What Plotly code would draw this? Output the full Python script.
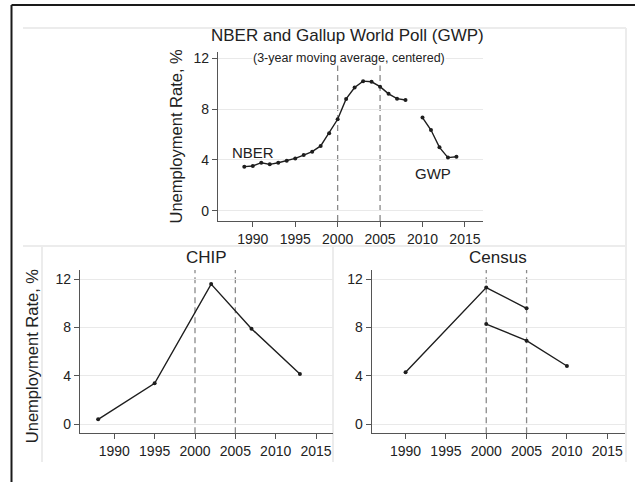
import plotly.graph_objects as go

# ---------------- data ----------------
nber_years = list(range(1989, 2009))
nber_rate = [3.47, 3.52, 3.78, 3.65, 3.78, 3.94, 4.12, 4.38, 4.65, 5.1,
             6.1, 7.2, 8.8, 9.7, 10.2, 10.15, 9.77, 9.2, 8.82, 8.72]
gwp_years = [2010, 2011, 2012, 2013, 2014]
gwp_rate = [7.33, 6.35, 4.99, 4.18, 4.25]

chip_years = [1988, 1995, 2002, 2007, 2013]
chip_rate = [0.39, 3.37, 11.6, 7.9, 4.15]

census1_years = [1990, 2000, 2005]
census1_rate = [4.29, 11.31, 9.59]
census2_years = [2000, 2005, 2010]
census2_rate = [8.29, 6.91, 4.81]

vlines = [2000, 2005]
x_ticks = [1990, 1995, 2000, 2005, 2010, 2015]
y_ticks = [0, 4, 8, 12]

top_title = "NBER and Gallup World Poll (GWP)"
top_subtitle = "(3-year moving average, centered)"
chip_title = "CHIP"
census_title = "Census"
y_title = "Unemployment Rate, %"

# ---------------- layout helpers ----------------
W, H = 635, 482
def px(x):
    return x / W
def py(y):
    return 1 - y / H

FONT = "Liberation Sans, Arial, sans-serif"
TXT = "#222222"
LINE = "#1e1e1e"

fig = go.Figure()

def add_series(xs, ys, xa, ya):
    fig.add_trace(go.Scatter(x=xs, y=ys, mode="lines+markers", xaxis=xa, yaxis=ya,
                             line=dict(color=LINE, width=1.4),
                             marker=dict(color=LINE, size=4),
                             showlegend=False, hoverinfo="x+y"))

add_series(nber_years, nber_rate, "x", "y")
add_series(gwp_years, gwp_rate, "x", "y")
add_series(chip_years, chip_rate, "x2", "y2")
add_series(census1_years, census1_rate, "x3", "y3")
add_series(census2_years, census2_rate, "x3", "y3")

axis_common = dict(showline=True, linecolor="#555555", linewidth=1.3,
                   ticks="outside", ticklen=5, tickcolor="#555555", tickwidth=1.2,
                   tickfont=dict(family=FONT, size=14, color=TXT),
                   zeroline=False, fixedrange=True)

xa = dict(axis_common, tickvals=x_ticks, showgrid=False)
ya = dict(axis_common, tickvals=y_ticks, showgrid=True, gridcolor="#e9e9e9", gridwidth=1)

fig.update_layout(
    width=W, height=H, margin=dict(l=0, r=0, t=0, b=0),
    paper_bgcolor="white", plot_bgcolor="white",
    showlegend=False,
    xaxis=dict(xa, domain=[px(218), px(483)], range=[1985.9, 2017.13], anchor="y"),
    yaxis=dict(ya, domain=[py(221), py(51.7)], range=[-0.81, 12.52], anchor="x"),
    xaxis2=dict(xa, domain=[px(80), px(333)], range=[1985.75, 2017.1], anchor="y2"),
    yaxis2=dict(ya, domain=[py(433.3), py(270)], range=[-0.77, 12.77], anchor="x2"),
    xaxis3=dict(xa, domain=[px(371.7), px(625)], range=[1985.8, 2017.2], anchor="y3"),
    yaxis3=dict(ya, domain=[py(433.3), py(270)], range=[-0.77, 12.77], anchor="x3"),
)

shapes = []
# dashed reference lines
for xr, yr in [("x", "y domain"), ("x2", "y2 domain"), ("x3", "y3 domain")]:
    for v in vlines:
        shapes.append(dict(type="line", xref=xr, yref=yr, x0=v, x1=v, y0=0, y1=1,
                           line=dict(color="#8a8a8a", width=1.3, dash="6px,4px"), layer="below"))

# faint graph-region outlines
gray = dict(color="#ececec", width=2)
for (x0, y0, x1, y1) in [(23, 28, 626, 28), (626, 28, 626, 246), (23, 246, 626, 246),
                         (42, 246, 42, 462), (333, 246, 333, 462), (626, 246, 626, 462)]:
    shapes.append(dict(type="line", xref="paper", yref="paper",
                       x0=px(x0), x1=px(x1), y0=py(y0), y1=py(y1), line=gray, layer="below"))

# outer black frame (top and left)
shapes.append(dict(type="line", xref="paper", yref="paper", x0=px(11.5), x1=1,
                   y0=py(5), y1=py(5), line=dict(color="#1a1a1a", width=2)))
shapes.append(dict(type="line", xref="paper", yref="paper", x0=px(11.5), x1=px(11.5),
                   y0=py(5), y1=0, line=dict(color="#1a1a1a", width=2)))
fig.update_layout(shapes=shapes)

ann = []
def pann(text, x, y, size, angle=0, bg=None):
    d = dict(text=text, xref="paper", yref="paper", x=px(x), y=py(y),
             xanchor="center", yanchor="middle", showarrow=False, textangle=angle,
             font=dict(family=FONT, size=size, color=TXT))
    if bg:
        d["bgcolor"] = bg
        d["borderpad"] = 0
    ann.append(d)

pann(top_title, 347, 36, 17)
pann(top_subtitle, 349, 57.7, 12.5, bg="white")
pann(chip_title, 206.7, 257.5, 17)
pann(census_title, 498, 257.5, 17)
pann(y_title, 175, 136.5, 16.5, angle=-90)
pann(y_title, 31.7, 355.5, 16.5, angle=-90)

# series labels in data coordinates
ann.append(dict(text="NBER", xref="x", yref="y", x=1990.0, y=4.6, showarrow=False,
                xanchor="center", yanchor="middle", font=dict(family=FONT, size=15, color=TXT)))
ann.append(dict(text="GWP", xref="x", yref="y", x=2011.2, y=2.96, showarrow=False,
                xanchor="center", yanchor="middle", font=dict(family=FONT, size=15, color=TXT)))
fig.update_layout(annotations=ann)

fig.write_html("out.html", config={"displayModeBar": False},
               post_script="document.body.style.margin='0';")
